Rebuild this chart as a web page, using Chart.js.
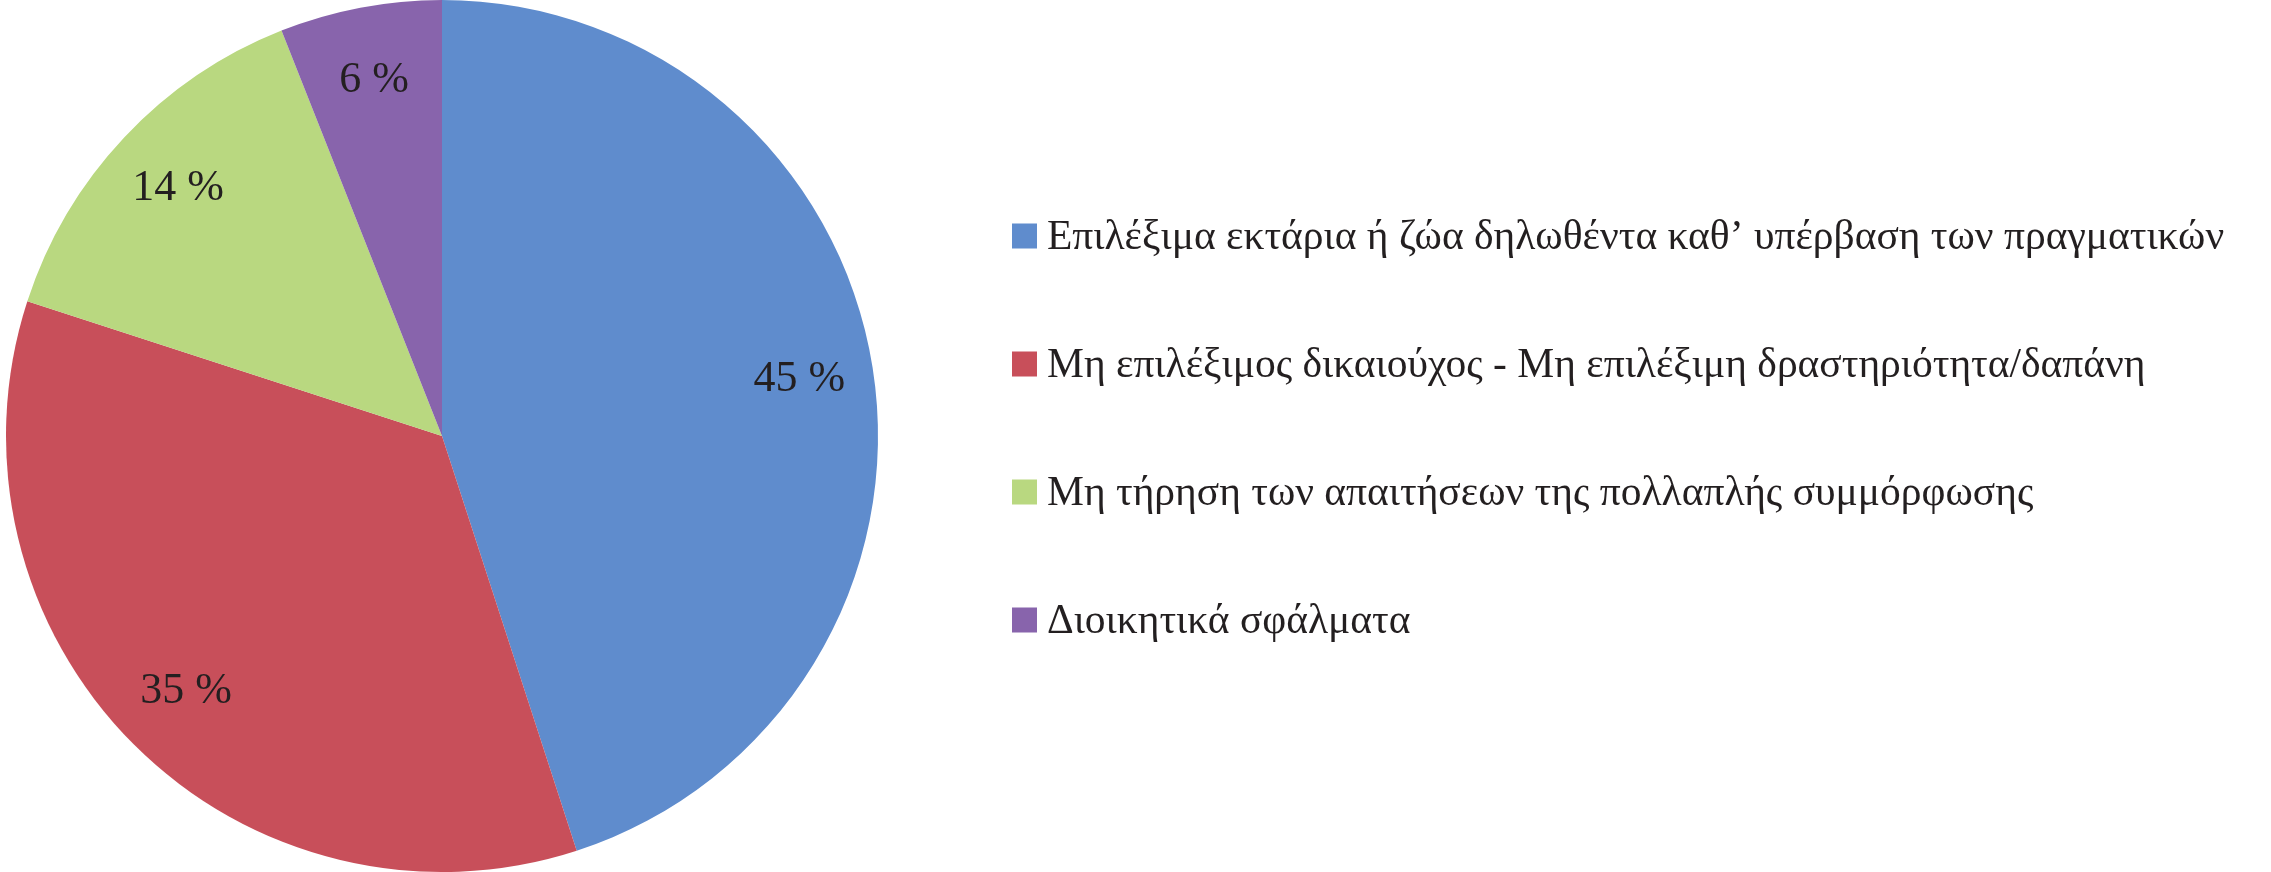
<!DOCTYPE html>
<html>
<head>
<meta charset="utf-8">
<script src="https://cdn.jsdelivr.net/npm/chart.js@4"></script>
<style>
  html, body { margin: 0; padding: 0; background: #fff; }
  #wrap { width: 2271px; height: 872px; }
</style>
</head>
<body>
<div id="wrap"><canvas id="pieChart"></canvas></div>
<script>
const categories = [
    'Επιλέξιμα εκτάρια ή ζώα δηλωθέντα καθ’ υπέρβαση των πραγματικών',
    'Μη επιλέξιμος δικαιούχος - Μη επιλέξιμη δραστηριότητα/δαπάνη',
    'Μη τήρηση των απαιτήσεων της πολλαπλής συμμόρφωσης',
    'Διοικητικά σφάλματα'
];
const shares = [45, 35, 14, 6];
const sliceColors = ['#5f8ccd', '#c84f5a', '#b9d880', '#8864ac'];

const FONT = '"Liberation Serif", "DejaVu Serif", serif';
const TEXT_COLOR = '#231f20';

// percentage labels inside the slices
const sliceLabels = {
    id: 'sliceLabels',
    afterDatasetsDraw(chart) {
        const ctx = chart.ctx;
        const meta = chart.getDatasetMeta(0);
        ctx.save();
        ctx.font = '44px ' + FONT;
        ctx.fillStyle = TEXT_COLOR;
        ctx.textAlign = 'center';
        ctx.textBaseline = 'middle';
        meta.data.forEach((arc, i) => {
            const mid = (arc.startAngle + arc.endAngle) / 2;
            const r = arc.outerRadius * 0.83;
            const x = arc.x + Math.cos(mid) * r;
            const y = arc.y + Math.sin(mid) * r;
            ctx.fillText(shares[i] + ' %', x, y);
        });
        ctx.restore();
    }
};

// legend drawn to the right of the pie
const sideLegend = {
    id: 'sideLegend',
    afterDraw(chart) {
        const ctx = chart.ctx;
        const left = 1012;
        const firstY = 236;
        const step = 128;
        const box = 25;
        ctx.save();
        ctx.font = '41.5px ' + FONT;
        ctx.textBaseline = 'middle';
        categories.forEach((label, i) => {
            const y = firstY + i * step;
            ctx.fillStyle = sliceColors[i];
            ctx.fillRect(left, y - box / 2, box, box);
            ctx.fillStyle = TEXT_COLOR;
            ctx.fillText(label, left + box + 10, y + 2);
        });
        ctx.restore();
    }
};

new Chart(document.getElementById('pieChart'), {
    type: 'pie',
    data: {
        labels: categories,
        datasets: [{
            data: shares,
            backgroundColor: sliceColors,
            borderWidth: 0
        }]
    },
    options: {
        responsive: true,
        maintainAspectRatio: false,
        animation: false,
        layout: { padding: { left: 0, top: 0, bottom: 0, right: 1387 } },
        plugins: {
            legend: { display: false },
            tooltip: { enabled: false }
        }
    },
    plugins: [sliceLabels, sideLegend]
});
</script>
</body>
</html>
